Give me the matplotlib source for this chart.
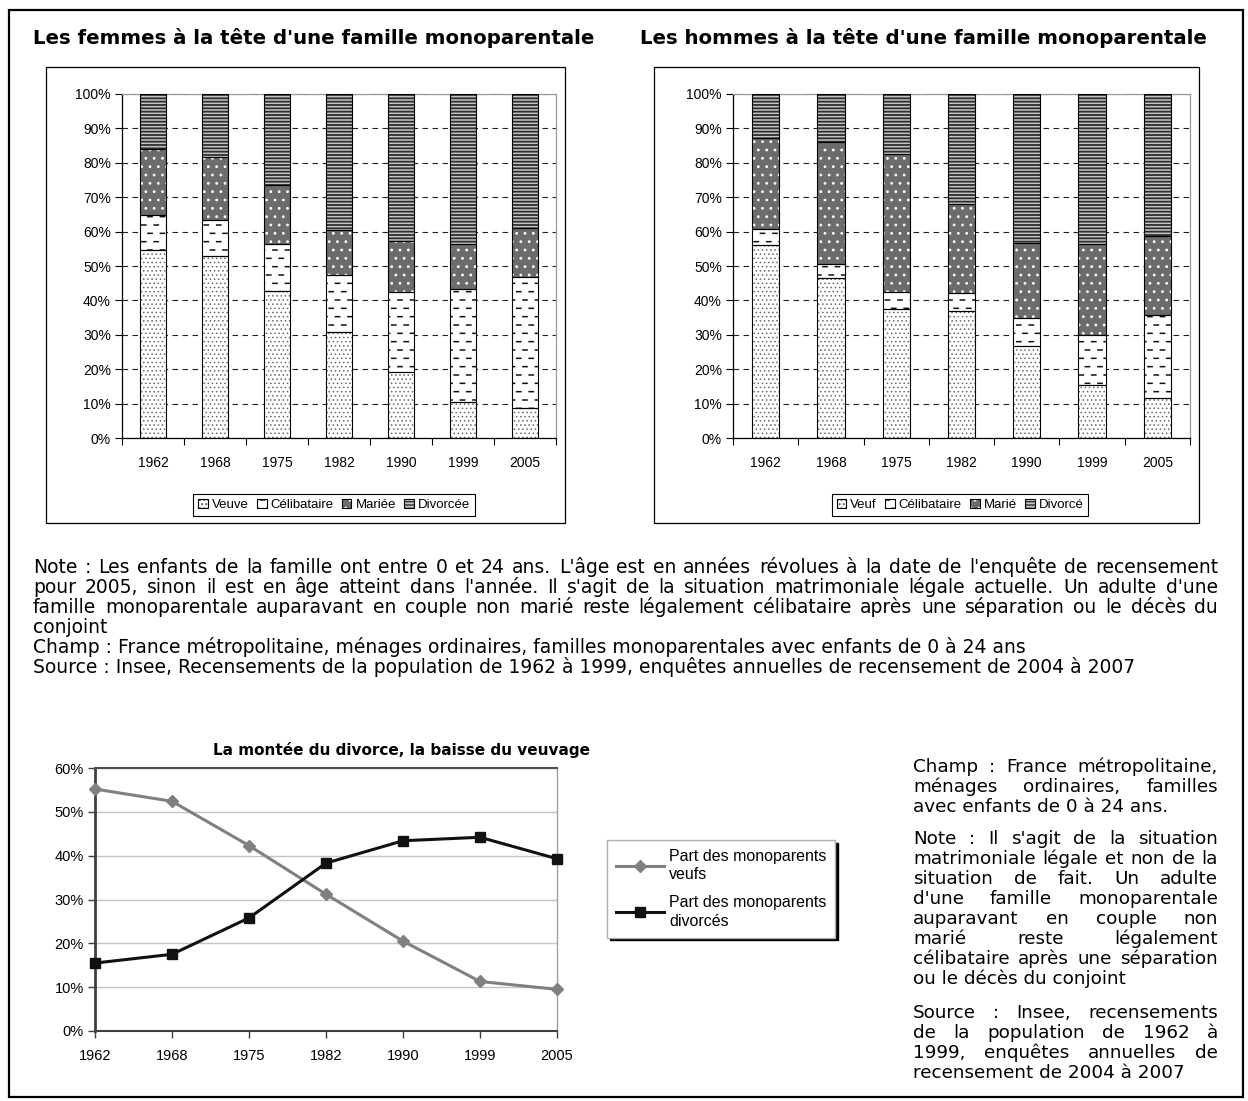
import warnings
import numpy as np
import matplotlib
matplotlib.use('Agg')
import matplotlib.pyplot as plt
import matplotlib.hatch as mhatch
from matplotlib.path import Path
from matplotlib.patches import Rectangle
from matplotlib.font_manager import FontProperties
from matplotlib.ticker import PercentFormatter

warnings.filterwarnings('ignore')

W, H = 1248, 1101

annees = ['1962', '1968', '1975', '1982', '1990', '1999', '2005']

# femmes à la tête d'une famille monoparentale (%)
f_veuve = [54.6, 52.8, 42.7, 30.8, 19.2, 10.5, 8.6]
f_celib = [10.2, 10.6, 13.6, 16.6, 23.1, 32.8, 38.1]
f_mariee = [19.3, 18.3, 17.2, 13.1, 15.1, 13.2, 14.4]
f_divorcee = [15.9, 18.3, 26.5, 39.5, 42.6, 43.5, 38.9]

# hommes à la tête d'une famille monoparentale (%)
h_veuf = [56.0, 46.6, 37.5, 36.8, 26.6, 15.4, 11.7]
h_celib = [4.7, 4.0, 4.9, 5.4, 8.3, 14.6, 24.0]
h_marie = [26.5, 35.5, 40.3, 25.8, 21.8, 26.3, 22.9]
h_divorce = [12.8, 13.9, 17.3, 32.0, 43.3, 43.7, 41.4]

# ensemble des monoparents (%)
part_veufs = [55.2, 52.4, 42.3, 31.2, 20.5, 11.3, 9.5]
part_divorces = [15.5, 17.5, 25.8, 38.3, 43.4, 44.2, 39.3]

noms_f = ['Veuve', 'Célibataire', 'Mariée', 'Divorcée']
noms_h = ['Veuf', 'Célibataire', 'Marié', 'Divorcé']
noms_lignes = ['Part des monoparents\nveufs', 'Part des monoparents\ndivorcés']

note_bas = [
    "Note : Les enfants de la famille ont entre 0 et 24 ans. L'âge est en années révolues à la date de l'enquête de recensement",
    "pour 2005, sinon il est en âge atteint dans l'année. Il s'agit de la situation matrimoniale légale actuelle. Un adulte d'une",
    "famille monoparentale auparavant en couple non marié reste légalement célibataire après une séparation ou le décès du",
    "conjoint",
]
champ_bas = "Champ : France métropolitaine, ménages ordinaires, familles monoparentales avec enfants de 0 à 24 ans"
source_bas = "Source : Insee, Recensements de la population de 1962 à 1999, enquêtes annuelles de recensement de 2004 à 2007"

bloc_droite = [
    ["Champ : France métropolitaine,", "ménages ordinaires, familles", "avec enfants de 0 à 24 ans."],
    ["Note : Il s'agit de la situation", "matrimoniale légale et non de la", "situation de fait. Un adulte",
     "d'une famille monoparentale", "auparavant en couple non", "marié reste légalement",
     "célibataire après une séparation", "ou le décès du conjoint"],
    ["Source : Insee, recensements", "de la population de 1962 à", "1999, enquêtes annuelles de",
     "recensement de 2004 à 2007"],
]


class DashHatch(mhatch.HatchPatternBase):
    """Short staggered horizontal dashes, selected with '_'."""

    def __init__(self, hatch, density):
        self.num_rows = hatch.count('_') * density * 2
        self.num_cols = self.num_rows * 2 // 3
        if self.num_rows:
            self.num_vertices = 2 * (self.num_rows + 1) * (self.num_cols + 1)
        else:
            self.num_vertices = 0

    def set_vertices_and_codes(self, vertices, codes):
        half = 0.021
        k = 0
        for i in range(self.num_rows + 1):
            y = i / self.num_rows
            shift = 0.5 / self.num_cols if i % 2 else 0.0
            for j in range(self.num_cols + 1):
                xc = j / self.num_cols + shift
                vertices[k] = (xc - half, y)
                vertices[k + 1] = (xc + half, y)
                codes[k] = Path.MOVETO
                codes[k + 1] = Path.LINETO
                k += 2


mhatch._hatch_types.append(DashHatch)

plt.rcParams['font.family'] = ['Liberation Sans', 'DejaVu Sans']
TXT = 'DejaVu Sans'

fig = plt.figure(figsize=(W / 100, H / 100), dpi=100)


def fx(x):
    return x / W


def fy(y):
    return 1 - y / H


def cadre(x0, y0, x1, y1, lw):
    fig.add_artist(Rectangle((fx(x0), fy(y1)), (x1 - x0) / W, (y1 - y0) / H,
                             transform=fig.transFigure, fill=False,
                             edgecolor='black', linewidth=lw))


# face colour, hatch, hatch colour, hatch line width
styles = [
    ('white', '....', '#6a6a6a', 0.6),
    ('white', '_', '#111111', 1.1),
    ('#6c6c6c', '..', 'white', 0.8),
    ('#c4c4c4', '-----', '#2e2e2e', 1.3),
]


def panneau_barres(rect, series, noms, leg_x):
    ax = fig.add_axes(rect)
    x = np.arange(len(annees))
    base = np.zeros(len(annees))
    handles = []
    for vals, (face, hatch, hcol, hlw) in zip(series, styles):
        fond = ax.bar(x, vals, 0.42, bottom=base, color=face, edgecolor=hcol,
                      hatch=hatch, linewidth=0, zorder=2)
        for p in fond.patches:
            if hasattr(p, 'set_hatch_linewidth'):
                p.set_hatch_linewidth(hlw)
        bord = ax.bar(x, vals, 0.42, bottom=base, fill=False,
                      edgecolor='black', linewidth=0.8, zorder=3)
        handles.append((fond.patches[0], bord.patches[0]))
        base = base + np.array(vals)

    ax.set_xlim(-0.5, len(annees) - 0.5)
    ax.set_ylim(0, 100)
    ax.set_xticks(x, annees)
    ax.set_xticks(np.arange(-0.5, len(annees), 1), minor=True)
    ax.tick_params(axis='x', which='major', length=0, pad=13, labelsize=10)
    ax.tick_params(axis='x', which='minor', length=5, width=0.8)
    ax.set_yticks(range(0, 101, 10))
    ax.yaxis.set_major_formatter(PercentFormatter(100, decimals=0))
    ax.tick_params(axis='y', length=5, width=0.8, pad=3, labelsize=10)
    ax.set_axisbelow(True)
    ax.yaxis.grid(True, color='#222222', linestyle=(0, (5, 4)), linewidth=0.8)
    for s in ('left', 'bottom'):
        ax.spines[s].set_color('black')
        ax.spines[s].set_linewidth(0.9)
    for s in ('top', 'right'):
        ax.spines[s].set_color('#9a9a9a')
        ax.spines[s].set_linewidth(0.9)

    leg = ax.legend(handles, noms, loc='center', ncol=4,
                    bbox_to_anchor=(fx(leg_x), fy(505)),
                    bbox_transform=fig.transFigure, fontsize=9.5,
                    frameon=True, fancybox=False, framealpha=1,
                    edgecolor='black', handlelength=0.75, handleheight=0.75,
                    handletextpad=0.3, columnspacing=0.6, borderpad=0.35,
                    borderaxespad=0)
    leg.get_frame().set_linewidth(0.8)
    return ax


# cadre général
cadre(9, 10, 1243, 1097, 1.6)

# graphiques du haut
fig.text(fx(33), fy(38), "Les femmes à la tête d'une famille monoparentale",
         family=TXT, fontsize=14.2, weight='bold', ha='left', va='center')
fig.text(fx(640), fy(38), "Les hommes à la tête d'une famille monoparentale",
         family=TXT, fontsize=14.2, weight='bold', ha='left', va='center')

cadre(46, 67, 565, 523, 0.9)
cadre(654, 67, 1199, 523, 0.9)

panneau_barres([fx(122), fy(438), 434 / W, 344 / H],
               [f_veuve, f_celib, f_mariee, f_divorcee], noms_f, 334)
panneau_barres([fx(733), fy(438), 457 / W, 344 / H],
               [h_veuf, h_celib, h_marie, h_divorce], noms_h, 960)

# texte justifié
renderer = fig.canvas.get_renderer()


def ligne(txt, x0, x1, y, size, justifie):
    fp = FontProperties(family=TXT, size=size)
    mots = txt.split(' ')
    if not justifie or len(mots) == 1:
        fig.text(fx(x0), fy(y), txt, fontproperties=fp, ha='left', va='baseline')
        return
    larg = [renderer.get_text_width_height_descent(m, fp, ismath=False)[0] for m in mots]
    gap = (x1 - x0 - sum(larg)) / (len(mots) - 1)
    xc = x0
    for m, lw in zip(mots, larg):
        fig.text(fx(xc), fy(y), m, fontproperties=fp, ha='left', va='baseline')
        xc += lw + gap


TS = 13.5
yb = 573
for i, t in enumerate(note_bas):
    ligne(t, 33, 1218, yb + 20 * i, TS, i < len(note_bas) - 1)
ligne(champ_bas, 33, 1218, yb + 80, TS, False)
ligne(source_bas, 33, 1218, yb + 100, TS, False)

yb = 771.5
for para in bloc_droite:
    for i, t in enumerate(para):
        ligne(t, 913, 1218, yb, 13.2, i < len(para) - 1)
        yb += 20
    yb += 13

# graphique du bas
fig.text(fx(401), fy(750), "La montée du divorce, la baisse du veuvage",
         family=TXT, fontsize=11, weight='bold', ha='center', va='center')

ax3 = fig.add_axes([fx(95), fy(1031), 462 / W, 263 / H])
x = np.arange(len(annees))
ax3.plot(x, part_veufs, color='#808080', lw=2.2, marker='D', ms=6.5,
         label=noms_lignes[0], clip_on=False, zorder=3)
ax3.plot(x, part_divorces, color='#111111', lw=2.2, marker='s', ms=7,
         label=noms_lignes[1], clip_on=False, zorder=4)
ax3.set_xlim(0, len(annees) - 1)
ax3.set_ylim(0, 60)
ax3.set_xticks(x, annees)
ax3.set_yticks(range(0, 61, 10))
ax3.yaxis.set_major_formatter(PercentFormatter(100, decimals=0))
ax3.tick_params(axis='both', length=5, width=1, labelsize=10.5, color='#404040')
ax3.tick_params(axis='x', pad=8)
ax3.tick_params(axis='y', pad=3)
ax3.set_axisbelow(True)
ax3.yaxis.grid(True, color='#c4c4c4', linewidth=1)
ax3.spines['left'].set_color('#404040')
ax3.spines['left'].set_linewidth(2)
ax3.spines['bottom'].set_color('#404040')
ax3.spines['bottom'].set_linewidth(1.5)
ax3.spines['top'].set_color('#505050')
ax3.spines['top'].set_linewidth(1.5)
ax3.spines['right'].set_color('#a0a0a0')
ax3.spines['right'].set_linewidth(1)

leg3 = ax3.legend(loc='upper left', bbox_to_anchor=(fx(607), fy(840)),
                  bbox_transform=fig.transFigure, fontsize=11.5,
                  frameon=True, fancybox=False, framealpha=1,
                  edgecolor='#b0b0b0', shadow={'color': 'black', 'alpha': 1},
                  handlelength=3.0, handletextpad=0.35, borderpad=0.55,
                  labelspacing=0.8, borderaxespad=0)
for t in leg3.get_texts():
    t.set_linespacing(1.3)

fig.savefig('out.png', dpi=100)
